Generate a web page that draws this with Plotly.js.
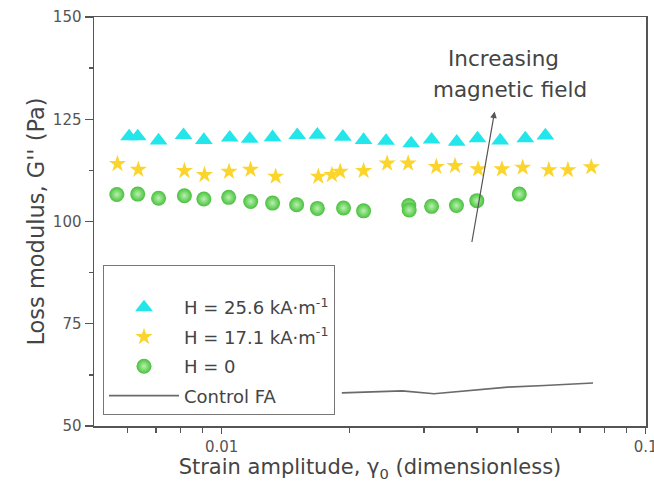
<!DOCTYPE html>
<html>
<head>
<meta charset="utf-8">
<script src="https://cdn.plot.ly/plotly-3.0.1.min.js"></script>
<style>html,body{margin:0;padding:0;background:#fff;}#chart{width:654px;height:488px;}</style>
</head>
<body>
<div id="chart"></div>
<script>
// H = 25.6 kA/m (triangles)
const xTri = [0.00605,0.00634,0.00710,0.00813,0.00908,0.01045,0.01165,0.01319,0.01508,0.01682,0.01932,0.02162,0.02443,0.02800,0.03128,0.03585,0.04014,0.04541,0.05204,0.05803];
const gTri = [120.8,120.8,119.8,121.1,119.9,120.5,120.2,120.6,121.1,121.2,120.7,119.9,119.7,119.1,120.0,119.5,120.3,119.8,120.3,121.0];
// H = 17.1 kA/m (stars)
const xStar = [0.00568,0.00636,0.00817,0.00911,0.01041,0.01170,0.01341,0.01691,0.01820,0.01904,0.02162,0.02457,0.02754,0.03209,0.03552,0.04027,0.04583,0.05130,0.05913,0.06559,0.07447];
const gStar = [114.1,112.7,112.4,111.4,112.2,112.7,111.0,111.0,111.4,112.2,112.4,114.2,114.2,113.4,113.6,112.8,112.8,113.2,112.6,112.6,113.3];
// H = 0 (circles)
const xCirc = [0.00566,0.00634,0.00710,0.00817,0.00908,0.01039,0.01171,0.01319,0.01503,0.01682,0.01939,0.02162,0.02764,0.02770,0.03128,0.03580,0.03999,0.05037];
const gCirc = [106.6,106.7,105.7,106.3,105.5,105.9,104.9,104.5,104.1,103.2,103.3,102.6,103.9,102.8,103.7,103.9,105.1,106.7];
// Control FA (line)
const xCtrl = [0.01921,0.02666,0.03168,0.04727,0.05771,0.07517];
const gCtrl = [58.1,58.6,57.9,59.5,59.9,60.5];

const names = ['H = 25.6 kA·m<sup>-1</sup>','H = 17.1 kA·m<sup>-1</sup>','H = 0','Control FA'];
const xMajor = [0.01, 0.1];
const xMajorText = ['0.01', '0.1'];
const xMinor = [0.006,0.007,0.008,0.009,0.02,0.03,0.04,0.05,0.06,0.07,0.08,0.09];
const yMajor = [50, 75, 100, 125, 150];

const FONT = 'DejaVu Sans';
const traces = [
  {x: xTri, y: gTri, name: names[0], mode: 'markers', type: 'scatter', legendgroup: 'a',
   marker: {symbol: 'triangle-up', size: 15.5, color: '#22e6ea', line: {width: 0}}},
  {x: xStar, y: gStar, name: names[1], mode: 'markers', type: 'scatter', legendgroup: 'b',
   marker: {symbol: 'star', size: 13, color: '#fcd52c', line: {width: 0}}},
  {x: xCirc, y: gCirc, name: names[2], mode: 'markers', type: 'scatter', legendgroup: 'c',
   marker: {symbol: 'circle', size: 15, color: '#48c03c', line: {width: 0},
            gradient: {type: 'radial', color: '#b8f2ae'}}},
  {x: xCtrl, y: gCtrl, name: names[3], mode: 'lines', type: 'scatter', legendgroup: 'd',
   line: {color: '#6a6a6a', width: 1.6}}
];

const axisCommon = {
  showline: true, linecolor: '#555', linewidth: 1.5, mirror: true,
  ticks: 'outside', tickcolor: '#555', tickwidth: 1.3,
  showgrid: false, zeroline: false, ticklabeloverflow: 'allow',
  tickfont: {family: FONT, size: 15, color: '#555'}
};

const layout = {
  width: 654, height: 488,
  margin: {l: 94, r: 8, t: 17, b: 62},
  paper_bgcolor: '#fff', plot_bgcolor: '#fff',
  font: {family: FONT, color: '#444'},
  showlegend: true,
  xaxis: Object.assign({}, axisCommon, {
    type: 'log', range: [Math.log10(0.005), -0.999],
    tickmode: 'array', tickvals: xMajor, ticktext: xMajorText, ticklen: 6,
    minor: {tickmode: 'array', tickvals: xMinor, ticks: 'outside', ticklen: 5, tickcolor: '#555', tickwidth: 1.3, showgrid: false},
    title: {text: 'Strain amplitude, γ<sub>0</sub> (dimensionless)', font: {family: FONT, size: 21, color: '#444'}, standoff: 3}
  }),
  yaxis: Object.assign({}, axisCommon, {
    range: [50, 150], tickmode: 'array', tickvals: yMajor, ticklen: 8,
    minor: {dtick: 12.5, ticks: 'outside', ticklen: 4, tickcolor: '#555', tickwidth: 1.3, showgrid: false},
    title: {text: "Loss modulus, G'' (Pa)", font: {family: FONT, size: 22.5, color: '#444'}, standoff: 2}
  }),
  legend: {
    x: 0.0163, y: 0.394, xanchor: 'left', yanchor: 'top',
    bgcolor: '#fff', bordercolor: '#777', borderwidth: 1,
    font: {family: FONT, size: 18, color: '#444'},
    traceorder: 'grouped', tracegroupgap: 3, itemwidth: 70,
    title: {text: ' ', font: {size: 18}}
  },
  annotations: [
    {x: Math.log10(0.04405), y: 126.9, xref: 'x', yref: 'y', showarrow: true,
     axref: 'pixel', ayref: 'pixel', ax: -23, ay: 132, text: '',
     arrowhead: 2, arrowsize: 1.1, arrowwidth: 1.2, arrowcolor: '#555'},
    {x: 0.741, y: 0.898, xref: 'paper', yref: 'paper', showarrow: false,
     xanchor: 'center', yanchor: 'middle',
     text: 'Increasing', font: {family: FONT, size: 21.5, color: '#444'}},
    {x: 0.754, y: 0.8225, xref: 'paper', yref: 'paper', showarrow: false,
     xanchor: 'center', yanchor: 'middle',
     text: 'magnetic field', font: {family: FONT, size: 21.5, color: '#444'}}
  ]
};

Plotly.newPlot('chart', traces, layout, {displayModeBar: false, staticPlot: true});
</script>
</body>
</html>
